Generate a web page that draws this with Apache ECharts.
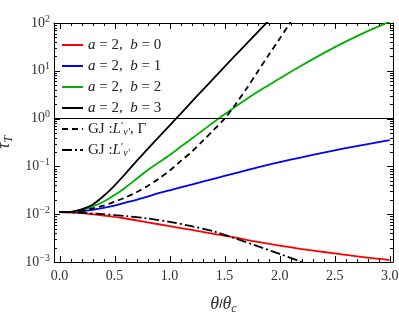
<!DOCTYPE html>
<html><head><meta charset="utf-8">
<script src="https://cdn.jsdelivr.net/npm/echarts@6/dist/echarts.min.js"></script>
<style>html,body{margin:0;padding:0;background:#fff}#c{width:399px;height:312px}</style>
</head><body><div id="c"></div>
<script>
// ---- data ----
const xRed = [0,0.2,0.4,0.6,0.8,1.0,1.2,1.4,1.6,1.8,2.0,2.2,2.4,2.6,2.8,3.0];
const yRed = [0.0110,0.0105,0.00933,0.00813,0.00676,0.00562,0.00468,0.00389,0.00324,0.00263,0.00219,0.00186,0.00162,0.00141,0.00123,0.00110];

const xBlue = [0,0.1,0.2,0.3,0.4,0.5,0.6,0.7,0.8,0.9,1.0,1.2,1.4,1.6,1.8,2.0,2.2,2.4,2.6,2.8,3.0];
const yBlue = [0.0110,0.0111,0.0115,0.0123,0.0135,0.0151,0.0174,0.0200,0.0234,0.0275,0.0316,0.0417,0.0550,0.0724,0.0955,0.123,0.155,0.195,0.240,0.292,0.355];

const xGreen = [0,0.1,0.2,0.3,0.4,0.5,0.6,0.7,0.8,0.9,1.0,1.1,1.2,1.3,1.4,1.5,1.6,1.7,1.8,1.9,2.0,2.2,2.4,2.6,2.8,3.0];
const yGreen = [0.0110,0.0111,0.0123,0.0145,0.0182,0.0251,0.0363,0.0550,0.0832,0.120,0.174,0.257,0.380,0.562,0.841,1.23,1.78,2.57,3.63,5.01,6.92,12.9,23.4,40.7,67.6,107];

const xBlack = [0,0.1,0.2,0.3,0.4,0.5,0.6,0.7,0.8,0.9,1.0,1.1,1.2,1.3,1.4,1.5,1.6,1.7,1.8,1.9];
const yBlack = [0.0110,0.0112,0.0126,0.0158,0.0240,0.0398,0.0708,0.129,0.229,0.407,0.716,1.26,2.24,3.94,6.92,12.2,21.4,37.2,64.6,112];

const xGJ1 = [0,0.1,0.2,0.3,0.4,0.5,0.6,0.7,0.8,0.9,1.0,1.1,1.2,1.3,1.4,1.5,1.6,1.7,1.8,1.9,2.0,2.1];
const yGJ1 = [0.0110,0.0111,0.0117,0.0132,0.0151,0.0182,0.0224,0.0288,0.0389,0.0550,0.0813,0.129,0.200,0.339,0.575,1.00,2.00,4.27,9.55,21.4,46.8,105];

const xGJ2 = [0,0.2,0.4,0.6,0.8,1.0,1.2,1.4,1.6,1.8,2.0,2.2];
const yGJ2 = [0.0110,0.0107,0.0100,0.00912,0.00813,0.00692,0.00562,0.00437,0.00309,0.00214,0.00148,0.00100];

const xTicks = [0,0.5,1.0,1.5,2.0,2.5,3.0];
const yTicks = [0.001,0.01,0.1,1,10,100];
const refLine = 1;

const names = ['r','b','g','k','gj1','gj2'];
const labels = {
  r:'{i|a} = 2,  {i|b} = 0',
  b:'{i|a} = 2,  {i|b} = 1',
  g:'{i|a} = 2,  {i|b} = 2',
  k:'{i|a} = 2,  {i|b} = 3',
  gj1:'GJ :{i|L}{s|′}{sub|ν′}, Γ',
  gj2:'GJ :{i|L}{s|′}{sub|ν′}'
};

const xMinor = [];
for (let i = 0; i <= 30; i++) if (i % 5) xMinor.push(i / 10);
const yMinor = [];
[0.001,0.01,0.1,1,10].forEach(d => { for (let k = 2; k <= 9; k++) yMinor.push(+(d * k).toPrecision(3)); });

const FF = 'Liberation Serif';
const TXT = '#333';
const pairs = (xs, ys) => xs.map((x, i) => [x, ys[i]]);
const XMIN = -0.05, XMAX = 3.03, YMIN = 0.001, YMAX = 100;

const nameRich = {
  i:{fontFamily:FF, fontStyle:'italic', fontSize:18, color:TXT},
  sub:{fontFamily:FF, fontStyle:'italic', fontSize:12, color:TXT, padding:[9,0,0,0]}
};

function xAx(pos, labelled) {
  return {
    type:'value', position:pos, min:XMIN, max:XMAX,
    axisLine:{show:true, onZero:false, lineStyle:{color:'#000', width:1}},
    axisTick:{show:false},
    axisLabel:{show:labelled, customValues:xTicks, formatter:v=>v.toFixed(1), margin:7,
      fontFamily:FF, fontSize:14, color:TXT},
    splitLine:{show:false},
    name: labelled ? '{i|θ}/{i|θ}{sub|c}' : '',
    nameLocation:'middle', nameGap:32,
    nameTextStyle:{rich:nameRich}
  };
}
function yAx(pos, labelled) {
  return {
    type:'log', logBase:10, position:pos, min:YMIN, max:YMAX,
    axisLine:{show:true, onZero:false, lineStyle:{color:'#000', width:1}},
    axisTick:{show:false},
    axisLabel:{show:labelled, customValues:yTicks, margin:4,
      formatter:v=>'10{sup|' + String(Math.round(Math.log10(v))).replace('-', '−') + '}',
      fontFamily:FF, fontSize:14, color:TXT,
      rich:{sup:{fontFamily:FF, fontSize:10, color:TXT, padding:[0,0,8,0]}}},
    splitLine:{show:false}, minorTick:{show:false},
    name: labelled ? '{i|τ}{sub|T}' : '',
    nameLocation:'middle', nameGap:27, nameRotate:90,
    nameTextStyle:{rich:nameRich}
  };
}

// inward tick marks on all four sides, placed through the axes' own scales
function tickLine(x1, y1, x2, y2) {
  return {type:'line', shape:{x1:x1, y1:y1, x2:x2, y2:y2}, style:{stroke:'#000', lineWidth:1, fill:null}};
}
function xTickSeries(vals, len) {
  return {type:'custom', data:vals.map(v => [v, 1]), dimensions:['x','y'], encode:{x:0, y:1},
    clip:false, silent:true, z:5,
    renderItem:function (params, api) {
      const cs = params.coordSys;
      const x = Math.round(api.coord([api.value(0), 1])[0]) + 0.5;
      const yb = cs.y + cs.height, yt = cs.y;
      return {type:'group', children:[tickLine(x, yb, x, yb - len), tickLine(x, yt, x, yt + len)]};
    }};
}
function yTickSeries(vals, len) {
  return {type:'custom', data:vals.map(v => [1, v]), dimensions:['x','y'], encode:{x:0, y:1},
    clip:false, silent:true, z:5,
    renderItem:function (params, api) {
      const cs = params.coordSys;
      const y = Math.round(api.coord([1, api.value(1)])[1]) + 0.5;
      const xl = cs.x, xr = cs.x + cs.width;
      return {type:'group', children:[tickLine(xl, y, xl + len, y), tickLine(xr, y, xr - len, y)]};
    }};
}

function ser(id, xs, ys, color, type) {
  return {
    name:id, type:'line', data:pairs(xs, ys), showSymbol:false, symbol:'none',
    smooth:0.3, clip:true,
    lineStyle:{color:color, width:1.8, type:type},
    itemStyle:{color:color},
    emphasis:{disabled:true}, silent:true
  };
}

const series = [
  ser('r', xRed, yRed, '#ff0000', 'solid'),
  ser('b', xBlue, yBlue, '#0000ff', 'solid'),
  ser('g', xGreen, yGreen, '#00b000', 'solid'),
  ser('k', xBlack, yBlack, '#000000', 'solid'),
  ser('gj1', xGJ1, yGJ1, '#000000', [6,4]),
  ser('gj2', xGJ2, yGJ2, '#000000', [10,3,2,3]),
  xTickSeries(xTicks, 6), xTickSeries(xMinor, 3),
  yTickSeries(yTicks, 6), yTickSeries(yMinor, 3)
];
series[0].markLine = {silent:true, symbol:'none', animation:false, label:{show:false},
  lineStyle:{color:'#000', width:1, type:'solid'}, data:[{yAxis:refLine}]};

const LH = 16;
const chart = echarts.init(document.getElementById('c'), null, {renderer:'canvas'});
chart.setOption({
  animation:false,
  backgroundColor:'#fff',
  grid:{left:54, right:6, top:23, bottom:50, outerBoundsMode:'none'},
  xAxis:[xAx('bottom', true), xAx('top', false)],
  yAxis:[yAx('left', true), yAx('right', false)],
  legend:{
    data:names, orient:'vertical', left:61, top:37, padding:0, itemGap:5,
    itemWidth:21, itemHeight:14, itemStyle:{opacity:0},
    formatter:n=>labels[n],
    textStyle:{fontFamily:FF, fontSize:15, color:'#222', lineHeight:LH,
      rich:{i:{fontFamily:FF, fontStyle:'italic', fontSize:15, color:'#222', lineHeight:LH},
            s:{fontFamily:FF, fontSize:11, color:'#222', lineHeight:6, verticalAlign:'top'},
            sub:{fontFamily:FF, fontStyle:'italic', fontSize:10, color:'#222', lineHeight:6, verticalAlign:'bottom'}}},
    selectedMode:false
  },
  series:series
});
</script></body></html>
